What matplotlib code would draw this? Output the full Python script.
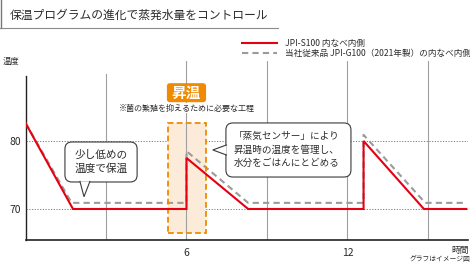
import matplotlib
matplotlib.use("Agg")
import matplotlib.pyplot as plt
from matplotlib.patches import FancyBboxPatch, Rectangle, Polygon
from matplotlib.lines import Line2D

plt.rcParams['font.family'] = ['Noto Sans CJK JP', 'DejaVu Sans']

# ---- data -------------------------------------------------------------
title = "保温プログラムの進化で蒸発水量をコントロール"
series_names = ["JPI-S100 内なべ内側", "当社従来品 JPI-G100（2021年製）の内なべ内側"]

hours_new = [0.0, 1.77, 6.0, 6.0, 8.3, 12.6, 12.6, 14.85, 16.43]
temp_new = [82.65, 70.0, 70.0, 77.5, 70.0, 70.0, 80.0, 70.0, 70.0]

hours_old = [0.0, 1.72, 6.0, 6.0, 8.3, 12.6, 12.6, 14.9, 16.43]
temp_old = [82.65, 70.9, 70.9, 78.5, 70.9, 70.9, 80.9, 70.9, 70.9]

x_ticks = [6, 12]
x_tick_labels = ["6", "12"]
y_ticks = [70, 80]
y_tick_labels = ["70", "80"]
grid_hours = [3, 6, 9, 12, 15]

heat_window = (5.3, 6.72)          # 昇温 phase
heat_temp_range = (66.5, 82.6)

# ---- style ------------------------------------------------------------
RED = "#e50012"
GRAY = "#9b9b9b"
ORANGE = "#f08a00"
PEACH = "#fdebd9"
TEXT = "#2b2b2b"
W, H = 470, 264

fig = plt.figure(figsize=(W / 100, H / 100), dpi=100)
ax = fig.add_axes([25.5 / W, 24 / H, 442.7 / W, 179 / H])
ax.set_xlim(0, 16.5)
ax.set_ylim(65.44, 91.76)

# x / y aspect for rounded boxes in data coordinates
px_per_hour = 442.7 / 16.5
px_per_deg = 179 / (91.76 - 65.44)
aspect = px_per_hour / px_per_deg

# horizontal reference lines
for yv in y_ticks:
    ax.axhline(yv, color="#7a7a7a", lw=0.7, ls=(0, (1.2, 1.6)), zorder=1)

# highlighted heating window
ax.add_patch(Rectangle((heat_window[0], heat_temp_range[0]),
                       heat_window[1] - heat_window[0],
                       heat_temp_range[1] - heat_temp_range[0],
                       facecolor=PEACH, edgecolor="none", zorder=1.5))

# vertical grid
for gx in grid_hours:
    top = 0.927 if gx == 3 else 1.0
    ax.axvline(gx, ymax=top, color="#a0a0a0", lw=0.8, zorder=2)

ax.add_patch(Rectangle((heat_window[0], heat_temp_range[0]),
                       heat_window[1] - heat_window[0],
                       heat_temp_range[1] - heat_temp_range[0],
                       facecolor="none", edgecolor=ORANGE, lw=1.3,
                       ls=(0, (3.2, 1.8)), zorder=3.5))

# series
ax.plot(hours_old, temp_old, color=GRAY, lw=1.5, dashes=(3, 2),
        solid_joinstyle="miter", zorder=3)
ax.plot(hours_new, temp_new, color=RED, lw=1.5, solid_joinstyle="miter",
        zorder=4)

# axes frame
for s in ("top", "right"):
    ax.spines[s].set_visible(False)
ax.spines["left"].set_color("#222222")
ax.spines["left"].set_linewidth(1.0)
ax.spines["left"].set_bounds(65.44, 89.6)
ax.spines["bottom"].set_color("#222222")
ax.spines["bottom"].set_linewidth(1.2)

ax.set_xticks(x_ticks, x_tick_labels)
ax.set_yticks(y_ticks, y_tick_labels)
ax.tick_params(axis="both", length=0, labelsize=7.5, colors=TEXT)
ax.tick_params(axis="x", pad=5.5)
ax.tick_params(axis="y", pad=3)

# axis captions
fig.text(3 / W, 1 - 61 / H, "温度", fontsize=6, color=TEXT, ha="left", va="center")
fig.text(469 / W, 1 - 250 / H, "時間", fontsize=6.3, color=TEXT, ha="right", va="center")
fig.text(470 / W, 1 - 259.5 / H, "グラフはイメージ図", fontsize=4.9, color=TEXT,
         ha="right", va="center")

# title block
fig.text(10 / W, 1 - 15 / H, title, fontsize=8.5, color=TEXT, ha="left", va="center")
fig.add_artist(Line2D([0.8 / W, 0.8 / W], [1.0, 1 - 28 / H], color="#777777", lw=1.0))
fig.add_artist(Line2D([0, 278 / W], [1 - 28 / H, 1 - 28 / H], color="#8a8a8a", lw=0.8))

# legend
leg_y = [1 - 43 / H, 1 - 53 / H]
fig.add_artist(Line2D([242 / W, 277 / W], [leg_y[0]] * 2, color=RED, lw=1.5))
fig.add_artist(Line2D([242 / W, 277 / W], [leg_y[1]] * 2, color=GRAY, lw=1.5,
                      dashes=(3, 2)))
for name, yy in zip(series_names, leg_y):
    fig.text(285 / W, yy, name, fontsize=6.2, color=TEXT, ha="left", va="center")

# 昇温 badge and note
ax.add_patch(FancyBboxPatch((5.27, 85.7), 1.46, 2.8,
                            boxstyle="round,pad=0,rounding_size=0.12",
                            mutation_aspect=aspect, facecolor=ORANGE,
                            edgecolor="none", zorder=5))
ax.text(6.0, 87.05, "昇温", fontsize=10.5, fontweight="bold", color="white",
        ha="center", va="center", zorder=6)
ax.text(6.03, 84.85, "※菌の繁殖を抑えるために必要な工程", fontsize=5.8, color=TEXT,
        ha="center", va="center", zorder=6,
        bbox=dict(facecolor="white", edgecolor="none", pad=0.3))


def callout(x0, y0, w, h, tail, text, tx, ty, size, spacing):
    box = FancyBboxPatch((x0, y0), w, h,
                         boxstyle="round,pad=0,rounding_size=0.26",
                         mutation_aspect=aspect, facecolor="white",
                         edgecolor="#3a3a3a", lw=0.8, zorder=7)
    ax.add_patch(box)
    ax.add_patch(Polygon(tail, closed=True, facecolor="white",
                         edgecolor="none", zorder=7.5))
    xs, ys = zip(*tail)
    ax.plot(xs, ys, color="#3a3a3a", lw=0.8, zorder=7.6,
            solid_joinstyle="miter")
    ax.text(tx, ty, text, fontsize=size, color=TEXT, ha="center",
            va="center", linespacing=spacing, zorder=8)


callout(1.47, 73.97, 2.69, 5.88,
        [(2.03, 74.05), (2.18, 71.8), (2.40, 74.05)],
        "少し低めの\n温度で保温", 2.81, 76.95, 7.7, 1.35)

callout(7.47, 74.7, 4.66, 7.95,
        [(7.49, 79.41), (6.98, 78.68), (7.49, 77.94)],
        "「蒸気センサー」により\n昇温時の温度を管理し、\n水分をごはんにとどめる",
        9.72, 78.7, 6.9, 1.48)

fig.savefig("out.png", dpi=100)
